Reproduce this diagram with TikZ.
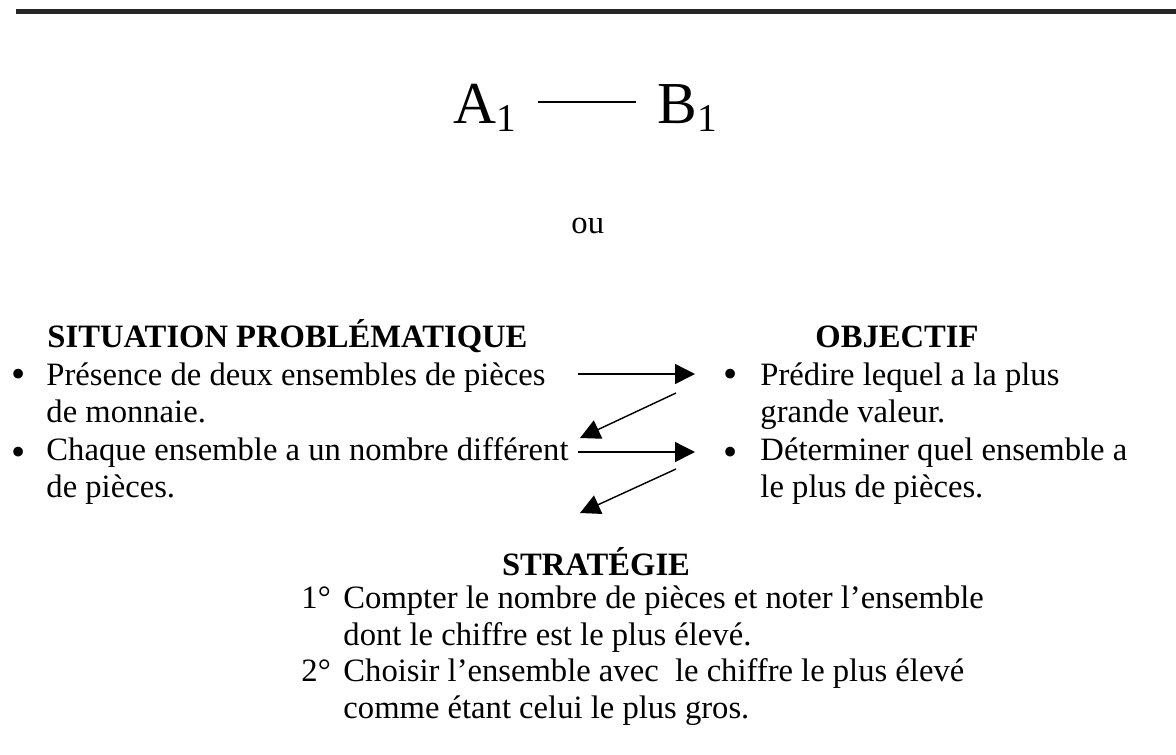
\documentclass[tikz,border=0pt]{standalone}
\usepackage{fontspec}
\setmainfont{Liberation Serif}
\usetikzlibrary{arrows.meta, positioning}

\begin{document}
\begin{tikzpicture}[
    x=0.42pt, y=-0.42pt,
    txt/.style={anchor=base west, align=left, inner sep=0pt, font=\fontsize{13.7}{15.5}\selectfont},
    head/.style={inner sep=0pt, font=\fontsize{13.7}{15.5}\selectfont\bfseries},
    bul/.style={anchor=base, inner sep=0pt, font=\fontsize{17}{15.5}\selectfont},
    big/.style={anchor=base west, inner xsep=8.8pt, inner ysep=0pt, font=\fontsize{25}{25}\selectfont},
    arrow/.style={-{Triangle[length=8.4pt, width=8.4pt]}, line width=0.6pt},
    bar/.style={line width=2.1pt, draw=black!85}
]
\useasboundingbox (0,0) rectangle (1176,754);

% 1. Top rule
\draw[bar] (16,11.5) -- (1176,11.5);

% 2. Pair A1 -- B1
\node[big, anchor=base east] (a1) at (538,123) {A\raisebox{-3.4pt}{\fontsize{16.5}{16.5}\selectfont 1}};
\node[big] (b1) at (636,123) {B\raisebox{-3.4pt}{\fontsize{16.5}{16.5}\selectfont 1}};
\draw[line width=1.05pt] ([yshift=8.8pt]a1.base east) -- ([yshift=8.8pt]b1.base west);

\node[txt] (ou) at (571,233) {ou};

% 3. Headings
\node[head, anchor=base west] (situation) at (47,347) {SITUATION PROBLÉMATIQUE};
\node[head, anchor=base] (objectif) at (897,347) {OBJECTIF};

% 4. Left column (base = last line)
\node[bul] (bl1) at (19,387) {•};
\node[txt] (presence) at (46,422) {Présence de deux ensembles de pièces\\de monnaie.};
\node[bul] (bl2) at (19,465) {•};
\node[txt] (chaque) at (46,497) {Chaque ensemble a un nombre différent\\de pièces.};

% 5. Right column
\node[bul] (br1) at (731,387) {•};
\node[txt] (predire) at (760,422) {Prédire lequel a la plus\\grande valeur.};
\node[bul] (br2) at (731,465) {•};
\node[txt] (determiner) at (760,497) {Déterminer quel ensemble a\\le plus de pièces.};

% 6. Strategy
\node[head, anchor=base] (strategie) at (596,575) {STRATÉGIE};
\node[txt] (n1) at (301,608) {1°};
\node[txt] (compter) at (343,645) {Compter le nombre de pièces et noter l’ensemble\\dont le chiffre est le plus élevé.};
\node[txt] (n2) at (301,681) {2°};
\node[txt] (choisir) at (343,718) {Choisir l’ensemble avec~ le chiffre le plus élevé\\comme étant celui le plus gros.};

% 7. Arrows
\coordinate (h1s) at (578,374);
\coordinate (h1e) at (695,374);
\coordinate (d1s) at (676,393);
\coordinate (d1e) at (580,438);
\coordinate (h2s) at (578,452);
\coordinate (h2e) at (695,452);
\coordinate (d2s) at (676,469);
\coordinate (d2e) at (580,513);

\draw[arrow] (h1s) -- (h1e);
\draw[arrow] (d1s) -- (d1e);
\draw[arrow] (h2s) -- (h2e);
\draw[arrow] (d2s) -- (d2e);

\end{tikzpicture}
\end{document}
